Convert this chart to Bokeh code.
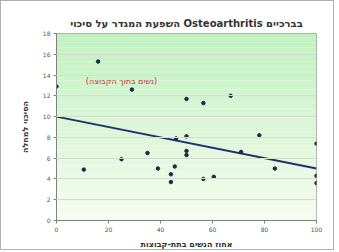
import numpy as np
from bokeh.plotting import figure
from bokeh.models import Range1d, FixedTicker, Label
from bokeh.embed import file_html
from bokeh.resources import INLINE

# data
women_pct = [0, 16, 29, 50, 56.5, 67, 10.5, 25, 35, 39, 44, 44, 45.5, 46, 50, 50, 50,
             56.5, 60.5, 71, 78, 84, 100, 100, 100]
risk = [12.9, 15.3, 12.6, 11.7, 11.3, 12.0, 4.9, 5.9, 6.5, 5.0, 4.45, 3.7, 5.2, 7.9, 8.1,
        6.7, 6.3, 4.0, 4.2, 6.6, 8.2, 5.0, 7.4, 4.3, 3.6]
trend_x = [0, 100]
trend_y = [10.0, 5.0]
x_ticks = [0, 20, 40, 60, 80, 100]
y_ticks = [0, 2, 4, 6, 8, 10, 12, 14, 16, 18]

title_text = "השפעת המגדר על סיכוי Osteoarthritis בברכיים"
x_label = "אחוז הנשים בתת-קבוצות"
y_label = "הסיכוי למחלה"
note_text = "(נשים בתוך הקבוצה)"

FONT = "DejaVu Sans"

p = figure(width=334, height=250, output_backend="svg", toolbar_location=None,
           x_range=Range1d(0, 100), y_range=Range1d(0, 18),
           min_border_left=55, min_border_right=19, min_border_top=32, min_border_bottom=28)

p.title.text = title_text
p.title.align = "center"
p.title.text_font = FONT
p.title.text_font_size = "10px"
p.title.text_font_style = "bold"
p.title.text_color = "#333333"
p.title.offset = 14

# background gradient (decorative)
n = 40
edges = np.linspace(0, 18, n + 1)
top_c = np.array([192, 242, 192])
bot_c = np.array([248, 252, 240])
cols = []
for i in range(n):
    t = (i + 0.5) / n
    c = bot_c + (top_c - bot_c) * t
    cols.append("#%02x%02x%02x" % tuple(int(v) for v in c))
p.quad(left=0, right=100, bottom=edges[:-1], top=edges[1:], fill_color=cols,
       line_color=None)

p.xgrid.visible = False
p.ygrid.grid_line_color = "#d4dccc"
p.ygrid.grid_line_width = 1
p.ygrid.level = "overlay"

p.outline_line_color = "#a0a0a0"
p.background_fill_color = "white"
p.border_fill_color = "white"

for ax in (p.xaxis[0], p.yaxis[0]):
    ax.axis_line_color = "#808080"
    ax.major_tick_line_color = "#808080"
    ax.minor_tick_line_color = None
    ax.major_tick_out = 3
    ax.major_tick_in = 0
    ax.major_label_text_font = FONT
    ax.major_label_text_font_size = "6px"
    ax.major_label_text_color = "#555555"
    ax.major_label_standoff = 3
    ax.axis_label_text_font = FONT
    ax.axis_label_text_font_size = "8px"
    ax.axis_label_text_font_style = "bold"
    ax.axis_label_text_color = "#333333"
    ax.axis_label_standoff = 5

p.xaxis.ticker = FixedTicker(ticks=x_ticks)
p.yaxis.ticker = FixedTicker(ticks=y_ticks)
p.xaxis.axis_label = x_label
p.yaxis.axis_label = y_label
p.yaxis.axis_label_standoff = 10

p.line(trend_x, trend_y, line_color="#1f2f6e", line_width=2)
p.scatter(women_pct, risk, size=3.5, marker="circle", fill_color="#1c2848",
          line_color="#1c2848")

p.add_layout(Label(x=25, y=13.4, text=note_text, text_font=FONT, text_font_size="8px",
                   text_color="#d03030", text_align="center", text_baseline="middle"))

p.styles = {"border": "1px solid #b0b0b0"}

open("out.html", "w").write(file_html(p, INLINE))
